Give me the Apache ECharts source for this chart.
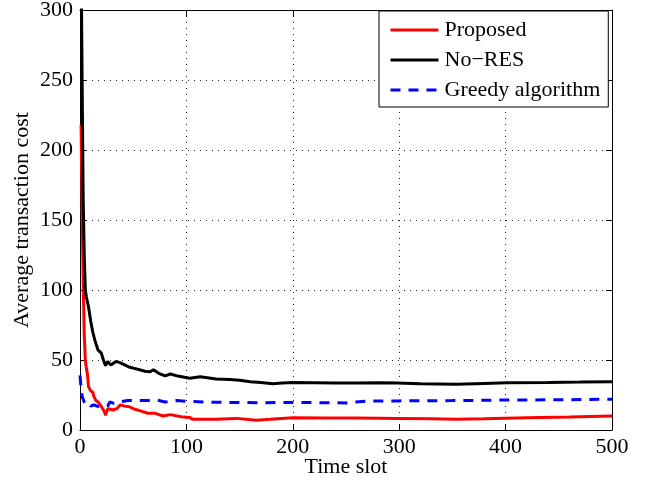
<!DOCTYPE html>
<html>
<head>
<meta charset="utf-8">
<script src="https://cdn.jsdelivr.net/npm/echarts@6/dist/echarts.min.js"></script>
<style>
  html, body { margin: 0; padding: 0; background: #fff; }
  #chart { width: 652px; height: 487px; }
</style>
</head>
<body>
<div id="chart"></div>
<script>
// Average transaction cost per time slot for three scheduling strategies
const xTicks = [0, 100, 200, 300, 400, 500];
const yTicks = [0, 50, 100, 150, 200, 250, 300];

const proposedSlots = [1, 2, 3, 4, 5, 6, 7, 8, 10, 12, 13, 15, 17, 19, 21, 23, 24, 25, 26, 28, 31, 35, 38, 42, 46, 51, 56, 64, 70, 78, 85, 95, 103, 106, 128, 147, 166, 179, 200, 230, 260, 298, 330, 354, 380, 420, 460, 500];
const proposedCost  = [218, 160, 105, 68, 50, 44, 40, 31, 28, 27, 24, 21, 20, 18, 15.5, 13, 10.5, 11, 15, 15, 14.3, 15.5, 18, 17, 16.7, 15, 13.8, 12, 12, 10, 11, 9.5, 9, 7.6, 7.6, 8.3, 7, 7.6, 8.8, 8.5, 8.6, 8.3, 8, 7.7, 8, 8.8, 9.3, 10];

const noResSlots = [1, 2, 3, 4, 5, 6, 8, 10, 12, 14, 15, 17, 20, 22, 24, 26, 29, 32, 34, 38, 42, 46, 51, 56, 61, 66, 69, 74, 80, 85, 92, 103, 113, 128, 141, 150, 160, 170, 181, 190, 200, 220, 240, 260, 280, 298, 320, 354, 380, 401, 440, 470, 500];
const noResCost  = [340, 250, 165, 125, 100, 95, 88, 78, 70, 64, 63, 57, 55, 50, 46, 49, 46.4, 48, 49, 48, 46.5, 45, 44, 43, 42, 41.6, 43, 40.5, 38.6, 40, 38.5, 37, 38, 36.4, 36, 35.5, 34.5, 34, 33, 33.5, 34, 33.8, 33.5, 33.5, 33.7, 33.5, 33, 32.6, 33.3, 33.8, 34, 34.2, 34.5];

const greedySlots = [0, 1, 2, 3, 4, 6, 8, 10, 13, 16, 20, 23, 26, 28, 32, 36, 45, 55, 65, 72, 80, 91, 100, 116, 140, 170, 200, 230, 250, 270, 300, 350, 401, 450, 500];
const greedyCost  = [39, 30, 24, 22, 20, 18, 19, 17, 18, 17, 16.5, 16, 17, 20, 19, 20, 21, 21, 21, 21.4, 20, 21, 20.5, 20, 19.7, 19.5, 19.7, 19.5, 19.3, 20.7, 20.8, 21, 21.4, 21.6, 22];

const pairs = (xs, ys) => xs.map((x, i) => [x, ys[i]]);

const FONT = 'Liberation Serif';
const chart = echarts.init(document.getElementById('chart'), null, { renderer: 'canvas' });

const baseX = {
  type: 'value', min: xTicks[0], max: xTicks[xTicks.length - 1], interval: 100,
  axisLine: { show: true, onZero: false, lineStyle: { color: '#000', width: 1 } },
  axisTick: { show: true, inside: true, length: 6, lineStyle: { color: '#000' } }
};
const baseY = {
  type: 'value', min: yTicks[0], max: yTicks[yTicks.length - 1], interval: 50,
  axisLine: { show: true, onZero: false, lineStyle: { color: '#000', width: 1 } },
  axisTick: { show: true, inside: true, length: 6, lineStyle: { color: '#000' } }
};

chart.setOption({
  animation: false,
  backgroundColor: '#fff',
  grid: { left: 80, right: 40, top: 10, bottom: 57, show: false, containLabel: false, outerBoundsMode: 'none' },
  xAxis: [
    Object.assign({}, baseX, {
      position: 'bottom',
      name: 'Time slot', nameLocation: 'middle', nameGap: 26, nameMoveOverlap: false,
      nameTextStyle: { fontFamily: FONT, fontSize: 22, color: '#000' },
      axisLabel: { fontFamily: FONT, fontSize: 22, color: '#000', margin: 6 },
      splitLine: { show: true, lineStyle: { color: '#222', type: [1, 5], width: 1 } }
    }),
    Object.assign({}, baseX, {
      position: 'top', axisLabel: { show: false }, splitLine: { show: false }
    })
  ],
  yAxis: [
    Object.assign({}, baseY, {
      position: 'left',
      name: 'Average transaction cost', nameLocation: 'middle', nameGap: 47, nameMoveOverlap: false,
      nameTextStyle: { fontFamily: FONT, fontSize: 22, color: '#000' },
      axisLabel: { fontFamily: FONT, fontSize: 22, color: '#000', margin: 7 },
      splitLine: { show: true, lineStyle: { color: '#222', type: [1, 5], width: 1 } }
    }),
    Object.assign({}, baseY, {
      position: 'right', axisLabel: { show: false }, splitLine: { show: false }
    })
  ],
  legend: {
    left: 379, top: 11, orient: 'vertical',
    backgroundColor: '#fff', borderColor: '#000', borderWidth: 1, borderRadius: 0,
    padding: [8, 8, 6, 10], itemGap: 8, itemWidth: 48, itemHeight: 14,
    itemStyle: { opacity: 0 },
    lineStyle: { width: 3 },
    textStyle: { fontFamily: FONT, fontSize: 22, color: '#000', padding: [0, 0, 0, 1] },
    data: ['Proposed', 'No\u2212RES', 'Greedy algorithm']
  },
  series: [
    {
      name: 'Proposed', type: 'line', data: pairs(proposedSlots, proposedCost),
      symbol: 'none', clip: true,
      lineStyle: { color: '#ff0000', width: 3 }, itemStyle: { color: '#ff0000' }
    },
    {
      name: 'No\u2212RES', type: 'line', data: pairs(noResSlots, noResCost),
      symbol: 'none', clip: true,
      lineStyle: { color: '#000000', width: 3 }, itemStyle: { color: '#000000' }
    },
    {
      name: 'Greedy algorithm', type: 'line', data: pairs(greedySlots, greedyCost),
      symbol: 'none', clip: true,
      lineStyle: { color: '#0000ff', width: 3, type: [10, 8] }, itemStyle: { color: '#0000ff' }
    }
  ]
});
</script>
</body>
</html>
